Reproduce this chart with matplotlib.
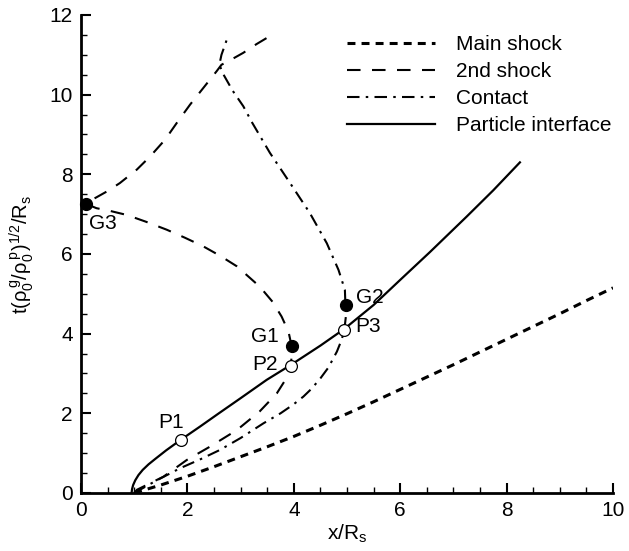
import matplotlib
matplotlib.use("Agg")
import matplotlib.pyplot as plt
from matplotlib.ticker import MultipleLocator

plt.rcParams['font.family'] = ['Liberation Sans', 'DejaVu Sans']
plt.rcParams['mathtext.fontset'] = 'custom'
plt.rcParams['mathtext.rm'] = 'Liberation Sans'
plt.rcParams['mathtext.it'] = 'Liberation Sans'
plt.rcParams['mathtext.bf'] = 'Liberation Sans:bold'

# ---- datos ----
main_x = [1.0, 1.5, 2.0, 2.5, 3.0, 3.5, 4.0, 4.5, 5.0, 5.5, 6.0, 6.5, 7.0, 7.5, 8.0, 8.5, 9.0, 9.5, 10.0]
main_y = [0.0, 0.2, 0.42, 0.66, 0.91, 1.16, 1.42, 1.7, 1.99, 2.29, 2.6, 2.91, 3.22, 3.54, 3.86, 4.18, 4.5, 4.83, 5.15]

second_x = [1.0, 1.05, 1.55, 1.99, 2.42, 2.93, 3.36, 3.68, 3.87, 3.95, 3.96, 3.9, 3.77, 3.6, 3.36, 3.2, 2.93, 2.62, 2.3,
            1.95, 1.61, 1.22, 0.86, 0.55, 0.29, 0.09,
            0.26, 0.5, 0.73, 1.05, 1.3, 1.58, 1.8, 2.05, 2.3, 2.55, 2.64, 2.85, 3.05, 3.3, 3.55]
second_y = [0.0, 0.08, 0.41, 0.83, 1.16, 1.58, 2.05, 2.5, 2.9, 3.2, 3.68, 4.05, 4.43, 4.8, 5.18, 5.37, 5.69, 5.95, 6.19,
            6.41, 6.61, 6.81, 6.98, 7.08, 7.15, 7.26,
            7.4, 7.58, 7.78, 8.12, 8.45, 8.87, 9.29, 9.75, 10.17, 10.59, 10.75, 10.9, 11.05, 11.27, 11.47]

contact_x = [1.0, 1.4, 1.86, 2.25, 2.61, 3.0, 3.43, 3.75, 3.99, 4.18, 4.32, 4.49, 4.65, 4.81, 4.9, 4.95, 4.98, 4.97,
             4.96, 4.84, 4.62, 4.3, 3.93, 3.55, 3.22, 3.05, 2.85, 2.68, 2.6, 2.64, 2.74]
contact_y = [0.0, 0.3, 0.62, 0.85, 1.08, 1.38, 1.75, 2.0, 2.22, 2.42, 2.6, 2.86, 3.15, 3.55, 3.85, 4.1, 4.45, 4.72,
             5.1, 5.6, 6.27, 7.03, 7.78, 8.54, 9.29, 9.71, 10.1, 10.5, 10.75, 11.0, 11.38]

part_x = [0.95, 0.96, 0.98, 1.02, 1.08, 1.16, 1.27, 1.4, 1.6, 1.88, 2.24, 2.58, 3.0, 3.49, 3.95, 4.5, 4.95, 5.5, 6.0,
          6.56, 7.25, 7.75, 8.25]
part_y = [0.0, 0.1, 0.2, 0.32, 0.45, 0.58, 0.72, 0.86, 1.07, 1.34, 1.67, 1.99, 2.38, 2.84, 3.22, 3.7, 4.12, 4.72, 5.35,
          6.05, 6.94, 7.6, 8.3]

# puntos G (llenos) y P (vacios)
g_names = ["G1", "G2", "G3"]
g_x = [3.96, 4.98, 0.09]
g_y = [3.68, 4.72, 7.26]
g_lx = [3.46, 5.43, 0.41]
g_ly = [3.92, 4.9, 6.77]

p_names = ["P1", "P2", "P3"]
p_x = [1.88, 3.95, 4.95]
p_y = [1.33, 3.2, 4.1]
p_lx = [1.7, 3.46, 5.4]
p_ly = [1.78, 3.22, 4.18]

fig = plt.figure(figsize=(6.29, 5.51), dpi=100)
ax = fig.add_axes([0.1288, 0.1053, 0.8458, 0.8675])

ax.plot(main_x, main_y, color='black', linewidth=2.2, linestyle=(0, (2.6, 2.0)), label='Main shock')
ax.plot(second_x, second_y, color='black', linewidth=1.5, linestyle=(0, (6.5, 5.5)), label='2nd shock')
ax.plot(contact_x, contact_y, color='black', linewidth=1.5, linestyle=(0, (6, 3, 1.2, 3)), label='Contact')
ax.plot(part_x, part_y, color='black', linewidth=1.6, label='Particle interface')

ax.plot(g_x, g_y, 'o', color='black', markersize=8.5, clip_on=False, zorder=5)
ax.plot(p_x, p_y, 'o', markerfacecolor='white', markeredgecolor='black', markersize=8.5,
        markeredgewidth=0.9, clip_on=False, zorder=5)

for name, lx, ly in zip(g_names, g_lx, g_ly):
    ax.text(lx, ly, name, fontsize=15, ha='center', va='center')
for name, lx, ly in zip(p_names, p_lx, p_ly):
    ax.text(lx, ly, name, fontsize=15, ha='center', va='center')

ax.set_xlim(0, 10)
ax.set_ylim(0, 12)
ax.xaxis.set_major_locator(MultipleLocator(2))
ax.xaxis.set_minor_locator(MultipleLocator(0.5))
ax.yaxis.set_major_locator(MultipleLocator(2))
ax.yaxis.set_minor_locator(MultipleLocator(0.5))
ax.tick_params(which='major', direction='in', length=7, width=1.5, labelsize=15, pad=6)
ax.tick_params(which='minor', direction='in', length=4, width=1.0)

for side in ['top', 'right']:
    ax.spines[side].set_visible(False)
for side in ['left', 'bottom']:
    ax.spines[side].set_linewidth(2.0)

ax.set_xlabel(r'x/R$_{\mathrm{s}}$', fontsize=15, labelpad=2)
ax.set_ylabel(r't($\rho_0^{\,g}$/$\rho_0^{\,p}$)$^{1/2}$/R$_{\mathrm{s}}$', fontsize=14.5)
ax.yaxis.set_label_coords(-0.085, 0.5)

ax.legend(loc='upper left', bbox_to_anchor=(0.539, 0.951), bbox_transform=fig.transFigure,
          frameon=False, fontsize=15, handlelength=4.2, handletextpad=1.0, labelspacing=0.38,
          borderaxespad=0.0)

fig.savefig('out.png', dpi=100)
